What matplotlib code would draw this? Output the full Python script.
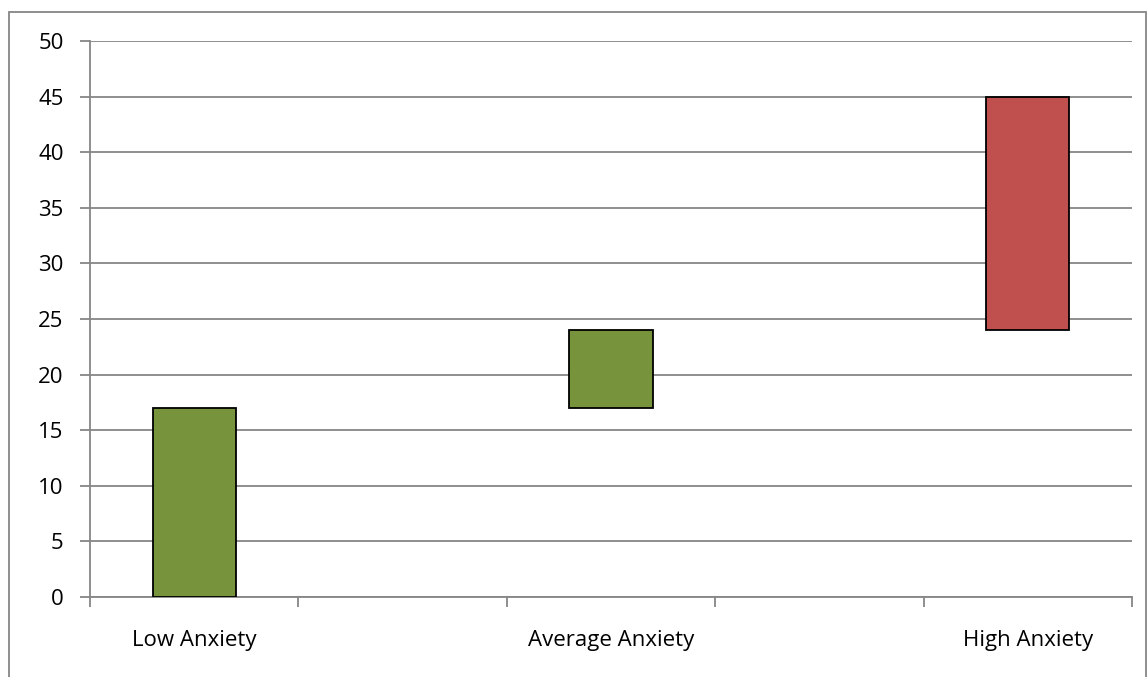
import matplotlib.pyplot as plt
from matplotlib.patches import Rectangle
import numpy as np

# категории (пустые промежутки между группами)
categories = ['Low Anxiety', '', 'Average Anxiety', '', 'High Anxiety']
bar_bottoms = [0, None, 17, None, 24]
bar_tops = [17, None, 24, None, 45]
bar_colors = ['#77933C', None, '#77933C', None, '#C0504D']

plt.rcParams['font.family'] = ['Open Sans', 'DejaVu Sans']

fig = plt.figure(figsize=(11.48, 6.77), dpi=100)
ax = fig.add_axes([90 / 1148, 80 / 677, 1042 / 1148, 556 / 677])

# рамка вокруг всей области диаграммы
fig.patches.append(Rectangle((9 / 1148, -0.05), 1137 / 1148, (665 / 677) + 0.05,
                             transform=fig.transFigure, fill=False,
                             edgecolor='#868686', linewidth=1.3))

x = np.arange(len(categories))
for xi, lo, hi, col in zip(x, bar_bottoms, bar_tops, bar_colors):
    if lo is None:
        continue
    ax.bar(xi, hi - lo, bottom=lo, width=0.4, color=col,
           edgecolor='black', linewidth=1.3, zorder=3)

ax.set_xlim(-0.5, len(categories) - 0.5)
ax.set_ylim(0, 50)
ax.set_yticks(range(0, 51, 5))
ax.yaxis.grid(True, color='#868686', linewidth=1.3)
ax.set_axisbelow(True)

ax.set_xticks(x)
ax.set_xticklabels(categories, fontsize=16)
ax.set_xticks(np.arange(-0.5, len(categories), 1), minor=True)
ax.tick_params(axis='x', which='major', length=0, pad=24)
ax.tick_params(axis='x', which='minor', length=7, color='#868686', width=1.3)
ax.tick_params(axis='y', length=7, color='#868686', width=1.3, labelsize=16, pad=12)

for side in ['top', 'right']:
    ax.spines[side].set_visible(False)
for side in ['left', 'bottom']:
    ax.spines[side].set_color('#868686')
    ax.spines[side].set_linewidth(1.3)

fig.savefig('out.png', dpi=100)
